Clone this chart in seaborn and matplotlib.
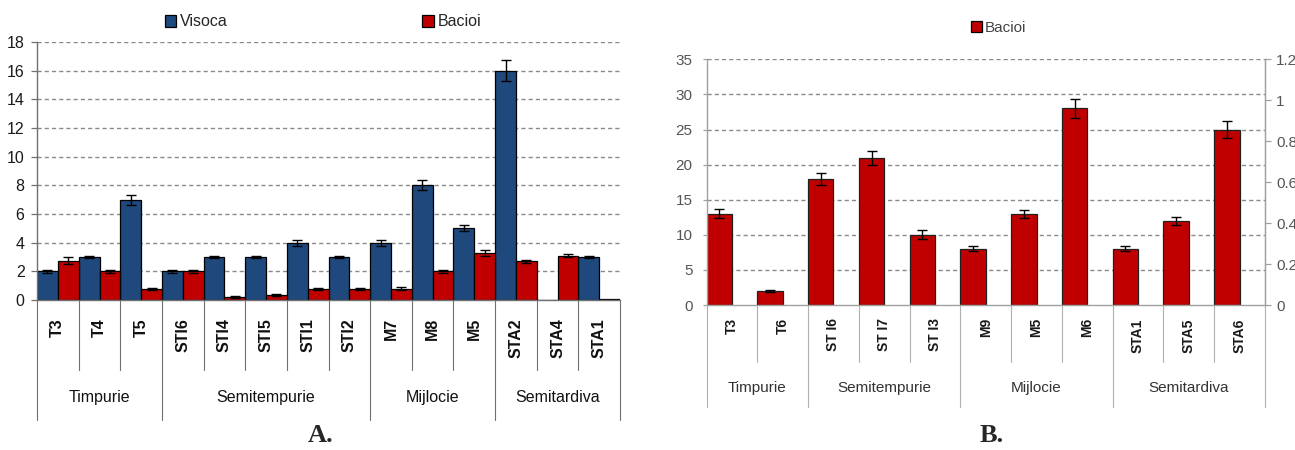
import numpy as np
import pandas as pd
import matplotlib
matplotlib.use("Agg")
import matplotlib.pyplot as plt
from matplotlib.patches import Patch
import seaborn as sns

# ---- Panel A: Visoca vs Bacioi ----
a_soiuri = ["T3", "T4", "T5", "STI6", "STI4", "STI5", "STI1", "STI2",
            "M7", "M8", "M5", "STA2", "STA4", "STA1"]
a_grupe = ["Timpurie"] * 3 + ["Semitempurie"] * 5 + ["Mijlocie"] * 3 + ["Semitardiva"] * 3
a_visoca = [2.0, 3.0, 7.0, 2.0, 3.0, 3.0, 4.0, 3.0, 4.0, 8.0, 5.0, 16.0, 0.0, 3.0]
a_visoca_err = [0.1, 0.1, 0.35, 0.1, 0.1, 0.1, 0.2, 0.1, 0.2, 0.35, 0.2, 0.75, 0.0, 0.1]
a_bacioi = [2.75, 2.0, 0.75, 2.0, 0.2, 0.35, 0.75, 0.75, 0.8, 2.0, 3.3, 2.7, 3.1, 0.05]
a_bacioi_err = [0.25, 0.1, 0.08, 0.1, 0.05, 0.05, 0.08, 0.08, 0.08, 0.1, 0.2, 0.1, 0.1, 0.0]
a_yticks = [0, 2, 4, 6, 8, 10, 12, 14, 16, 18]

# ---- Panel B: Bacioi only ----
b_soiuri = ["T3", "T6", "ST I6", "ST I7", "ST I3", "M9", "M5", "M6", "STA1", "STA5", "STA6"]
b_grupe = ["Timpurie"] * 2 + ["Semitempurie"] * 3 + ["Mijlocie"] * 3 + ["Semitardiva"] * 3
b_bacioi = [13, 2, 18, 21, 10, 8, 13, 28, 8, 12, 25]
b_bacioi_err = [0.65, 0.15, 0.85, 1.0, 0.65, 0.35, 0.6, 1.3, 0.35, 0.6, 1.25]
b_yticks = [0, 5, 10, 15, 20, 25, 30, 35]
b_right_ticks = [0, 0.2, 0.4, 0.6, 0.8, 1, 1.2]

BLUE = "#1F497D"
RED = "#C00000"

sns.set_style("white")
plt.rcParams["font.family"] = ["Liberation Sans Narrow", "Liberation Sans", "DejaVu Sans"]

fig = plt.figure(figsize=(12.95, 4.5), dpi=100)
axA = fig.add_axes([0.0286, 0.3333, 0.4502, 0.5733])
axB = fig.add_axes([0.5456, 0.3222, 0.4312, 0.5460])


def add_errorbars(ax, errs_by_container):
    for cont, errs in zip(ax.containers, errs_by_container):
        for patch, e in zip(cont.patches, errs):
            if e <= 0:
                continue
            x = patch.get_x() + patch.get_width() / 2
            ax.errorbar(x, patch.get_height(), yerr=e, fmt="none", ecolor="black",
                        elinewidth=1.0, capsize=3.5, capthick=1.0, zorder=5)


def group_axis(ax, groups, tick_depth, group_depth, label_y, color, txt_color, size):
    tr = ax.get_xaxis_transform()
    n = len(groups)
    for i in range(n + 1):
        is_group = i == 0 or i == n or groups[i] != groups[i - 1]
        depth = group_depth if is_group else tick_depth
        ax.plot([i - 0.5, i - 0.5], [0, -depth], transform=tr, color=color,
                lw=0.8, clip_on=False, scalex=False, scaley=False)
    start = 0
    for i in range(1, n + 1):
        if i == n or groups[i] != groups[start]:
            ax.text((start + i - 1) / 2, -label_y, groups[start], transform=tr,
                    ha="center", va="center", fontsize=size, color=txt_color)
            start = i
    ax.set_xlim(-0.5, n - 0.5)


def dashed_grid(ax, ticks, color):
    for t in ticks[1:]:
        ax.axhline(t, color=color, lw=1.0, ls=(0, (3, 2.2)), zorder=0)


# ---------------- Panel A ----------------
dfA = pd.DataFrame({
    "soi": a_soiuri * 2,
    "loc": ["Visoca"] * len(a_soiuri) + ["Bacioi"] * len(a_soiuri),
    "val": a_visoca + a_bacioi,
})
sns.barplot(data=dfA, x="soi", y="val", hue="loc", hue_order=["Visoca", "Bacioi"],
            palette={"Visoca": BLUE, "Bacioi": RED}, order=a_soiuri, dodge=True,
            width=1.0, gap=0, errorbar=None, edgecolor="black", linewidth=0.9,
            saturation=1, legend=False, ax=axA, zorder=2)
add_errorbars(axA, [a_visoca_err, a_bacioi_err])
axA.set_ylim(0, 18)
axA.set_yticks(a_yticks)
axA.set_yticklabels([str(t) for t in a_yticks], fontsize=11.5, color="#1a1a1a")
dashed_grid(axA, a_yticks, "#8a8a8a")
axA.set_xlabel("")
axA.set_ylabel("")
for s in ["top", "right"]:
    axA.spines[s].set_visible(False)
for s in ["left", "bottom"]:
    axA.spines[s].set_color("#707070")
    axA.spines[s].set_linewidth(1.0)
axA.tick_params(axis="y", left=True, length=4, width=0.9, color="#707070", pad=5)
axA.tick_params(axis="x", length=0, pad=13)
for lab in axA.get_xticklabels():
    lab.set_rotation(90)
    lab.set_fontweight("bold")
    lab.set_fontsize(11.5)
    lab.set_color("#111111")
group_axis(axA, a_grupe, 70 / 258, 120 / 258, 97 / 258, "#707070", "#111111", 11.5)

fig.legend(handles=[Patch(facecolor=BLUE, edgecolor="black", lw=0.9, label="Visoca"),
                    Patch(facecolor=RED, edgecolor="black", lw=0.9, label="Bacioi")],
           loc="center", bbox_to_anchor=(323 / 1295, 1 - 22 / 450), ncol=2,
           frameon=False, fontsize=11.5, handlelength=0.7, handleheight=0.7,
           handletextpad=0.25, columnspacing=12.2)

fig.text(321 / 1295, 1 - 436 / 450, "A.", ha="center", va="center", fontsize=19,
         fontweight="bold", family=["Liberation Serif", "DejaVu Serif"])

# ---------------- Panel B ----------------
dfB = pd.DataFrame({"soi": b_soiuri, "loc": ["Bacioi"] * len(b_soiuri), "val": b_bacioi})
sns.barplot(data=dfB, x="soi", y="val", hue="loc", hue_order=["Bacioi", " "],
            palette={"Bacioi": RED, " ": "white"}, order=b_soiuri, dodge=True,
            width=1.0, gap=0, errorbar=None, edgecolor="#202020", linewidth=0.9,
            saturation=1, legend=False, ax=axB, zorder=2)
add_errorbars(axB, [b_bacioi_err])
axB.set_ylim(0, 35)
axB.set_yticks(b_yticks)
axB.set_yticklabels([str(t) for t in b_yticks], fontsize=11, color="#555555")
dashed_grid(axB, b_yticks, "#8a8a8a")
axB.set_xlabel("")
axB.set_ylabel("")
axB.spines["top"].set_visible(False)
for s in ["left", "bottom", "right"]:
    axB.spines[s].set_color("#a0a0a0")
    axB.spines[s].set_linewidth(1.0)
axB.tick_params(axis="y", left=True, length=3, width=0.9, color="#a0a0a0", pad=7)
axB.tick_params(axis="x", length=0, pad=9.5)
for lab in axB.get_xticklabels():
    lab.set_rotation(90)
    lab.set_fontweight("bold")
    lab.set_fontsize(10)
    lab.set_color("#1a1a1a")
group_axis(axB, b_grupe, 57 / 245.7, 102 / 245.7, 83 / 245.7, "#b0b0b0", "#333333", 11)

axR = axB.twinx()
axR.set_ylim(0, 1.2)
axR.set_yticks(b_right_ticks)
axR.set_yticklabels(["0", "0.2", "0.4", "0.6", "0.8", "1", "1.2"], fontsize=11, color="#555555")
axR.tick_params(axis="y", right=True, length=4, width=0.9, color="#a0a0a0", pad=4)
axR.grid(False)
axR.spines["top"].set_visible(False)
axR.spines["left"].set_visible(False)
axR.spines["bottom"].set_visible(False)
axR.spines["right"].set_color("#a0a0a0")

fig.legend(handles=[Patch(facecolor=RED, edgecolor="black", lw=0.9, label="Bacioi")],
           loc="center", bbox_to_anchor=(999 / 1295, 1 - 28 / 450),
           frameon=False, fontsize=11, handlelength=0.7, handleheight=0.7,
           handletextpad=0.2, labelcolor="#444444")

fig.text(992 / 1295, 1 - 436 / 450, "B.", ha="center", va="center", fontsize=19,
         fontweight="bold", family=["Liberation Serif", "DejaVu Serif"])

fig.savefig("out.png", dpi=100, facecolor="white")
